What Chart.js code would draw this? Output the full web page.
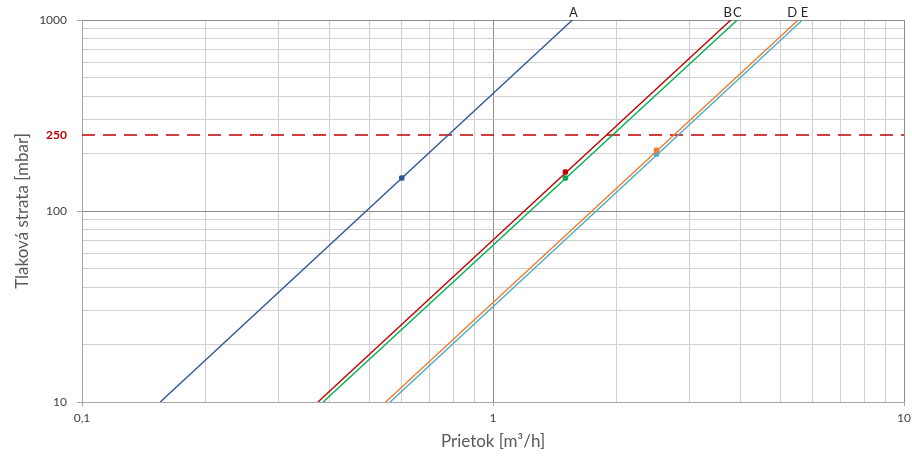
<!DOCTYPE html>
<html>
<head>
<meta charset="utf-8">
<script src="https://cdn.jsdelivr.net/npm/chart.js@4/dist/chart.umd.min.js"></script>
<style>
html,body{margin:0;padding:0;background:#fff;}
canvas{display:block;}
</style>
</head>
<body>
<canvas id="c" width="912" height="459"></canvas>
<script>
// ---- data ----
const seriesNames = ['A', 'B', 'C', 'D', 'E'];
const seriesColors = ['#2F5597', '#C00000', '#00B050', '#ED7D31', '#4BACC6'];
const lineFlowAt10 = [0.155, 0.375, 0.386, 0.548, 0.562];   // Q where loss = 10 mbar
const lineFlowAt1000 = [1.56, 3.79, 3.93, 5.53, 5.66];      // Q where loss = 1000 mbar
const lineLossLow = 10;
const lineLossHigh = 1000;
const pointFlow = [0.6, 1.5, 1.5, 2.5, 2.5];
const pointLoss = [149, 160, 149, 208, 199];
const limitLoss = 250;
const xTickLabels = [0.1, 1, 10];
const yTickLabels = [10, 100, 250, 1000];
const xTitle = 'Prietok [m³/h]';
const yTitle = 'Tlaková strata [mbar]';

// grid positions (1..9 per decade)
function logGrid(min, max) {
  const out = [];
  for (let e = Math.round(Math.log10(min)); e < Math.round(Math.log10(max)); e++) {
    for (let m = 1; m < 10; m++) out.push(m * Math.pow(10, e));
  }
  out.push(max);
  return out;
}
const xGrid = logGrid(0.1, 10);
const yGrid = logGrid(10, 1000).concat([limitLoss]).sort((a, b) => a - b);

function isDecade(v) {
  const l = Math.log10(v);
  return Math.abs(l - Math.round(l)) < 1e-9;
}
function near(a, b) { return Math.abs(a - b) < 1e-9 * Math.max(1, Math.abs(b)); }

const FONT = 'Lato, "Open Sans", sans-serif';

const datasets = [];
seriesNames.forEach((n, i) => {
  datasets.push({
    label: n,
    data: [{x: lineFlowAt10[i], y: lineLossLow}, {x: lineFlowAt1000[i], y: lineLossHigh}],
    showLine: true,
    borderColor: seriesColors[i],
    backgroundColor: seriesColors[i],
    borderWidth: 1.4,
    pointRadius: 0,
    pointHoverRadius: 0
  });
});
seriesNames.forEach((n, i) => {
  datasets.push({
    label: n + ' bod',
    data: [{x: pointFlow[i], y: pointLoss[i]}],
    showLine: false,
    borderColor: seriesColors[i],
    backgroundColor: seriesColors[i],
    pointStyle: 'rectRounded',
    pointRadius: 3.2,
    borderWidth: 0
  });
});
datasets.push({
  label: 'limit',
  data: [{x: xTickLabels[0], y: limitLoss}, {x: xTickLabels[xTickLabels.length - 1], y: limitLoss}],
  showLine: true,
  borderColor: '#C00000',
  borderWidth: 1.5,
  borderDash: [13, 8],
  pointRadius: 0
});

// small horizontal nudges so adjacent letters do not collide (as in the reference)
const LABEL_NUDGE = {A: 1, B: -3, C: 0, D: -6, E: 2};

const seriesLabelPlugin = {
  id: 'seriesLabels',
  afterDatasetsDraw(chart) {
    const ctx = chart.ctx;
    const xs = chart.scales.x, ys = chart.scales.y;
    ctx.save();
    ctx.font = '13px ' + FONT;
    ctx.fillStyle = '#262626';
    ctx.textAlign = 'center';
    ctx.textBaseline = 'bottom';
    seriesNames.forEach((n, i) => {
      const px = xs.getPixelForValue(lineFlowAt1000[i]) + (LABEL_NUDGE[n] || 0);
      const py = ys.getPixelForValue(lineLossHigh) - 1;
      ctx.fillText(n, px, py);
    });
    ctx.restore();
  }
};

new Chart(document.getElementById('c'), {
  type: 'scatter',
  data: {datasets},
  plugins: [seriesLabelPlugin],
  options: {
    responsive: false,
    animation: false,
    devicePixelRatio: 1,
    layout: {padding: {top: 20, right: 8, left: 0, bottom: 0}},
    plugins: {legend: {display: false}, tooltip: {enabled: false}},
    scales: {
      x: {
        type: 'logarithmic',
        min: xTickLabels[0],
        max: xTickLabels[xTickLabels.length - 1],
        afterBuildTicks: s => { s.ticks = xGrid.map(v => ({value: v})); },
        afterFit: s => { s.height = 57; s.paddingLeft = 0; s.paddingRight = 0; },
        border: {color: '#A6A6A6', width: 1},
        grid: {
          color: c => (c.tick && isDecade(c.tick.value)) ? '#8C8C8C' : '#D0D0D0',
          tickColor: c => (c.tick && isDecade(c.tick.value)) ? '#A6A6A6' : 'rgba(0,0,0,0)',
          tickLength: 4,
          lineWidth: 1
        },
        ticks: {
          autoSkip: false,
          maxRotation: 0,
          padding: 5,
          color: '#404040',
          font: {family: FONT, size: 12},
          callback: v => xTickLabels.some(t => near(t, v)) ? String(v).replace('.', ',') : ''
        },
        title: {
          display: true,
          text: xTitle,
          color: '#595959',
          font: {family: FONT, size: 17},
          padding: {top: 0, bottom: 7}
        }
      },
      y: {
        type: 'logarithmic',
        min: lineLossLow,
        max: lineLossHigh,
        afterBuildTicks: s => { s.ticks = yGrid.map(v => ({value: v})); },
        afterFit: s => { s.width = 82; s.paddingTop = 0; s.paddingBottom = 0; },
        border: {color: '#A6A6A6', width: 1},
        grid: {
          color: c => {
            if (!c.tick) return '#D0D0D0';
            if (near(c.tick.value, limitLoss)) return 'rgba(0,0,0,0)';
            return isDecade(c.tick.value) ? '#8C8C8C' : '#D0D0D0';
          },
          tickColor: c => (c.tick && isDecade(c.tick.value)) ? '#A6A6A6' : 'rgba(0,0,0,0)',
          tickLength: 5,
          lineWidth: 1
        },
        ticks: {
          autoSkip: false,
          padding: 10,
          color: c => (c.tick && near(c.tick.value, limitLoss)) ? '#C00000' : '#404040',
          font: c => (c.tick && near(c.tick.value, limitLoss)) ? {family: FONT, size: 12, weight: 'bold'} : {family: FONT, size: 12},
          callback: v => yTickLabels.some(t => near(t, v)) ? String(v) : ''
        },
        title: {
          display: true,
          text: yTitle,
          color: '#595959',
          font: {family: FONT, size: 17},
          padding: {top: 12, bottom: 0}
        }
      }
    }
  }
});
</script>
</body>
</html>
